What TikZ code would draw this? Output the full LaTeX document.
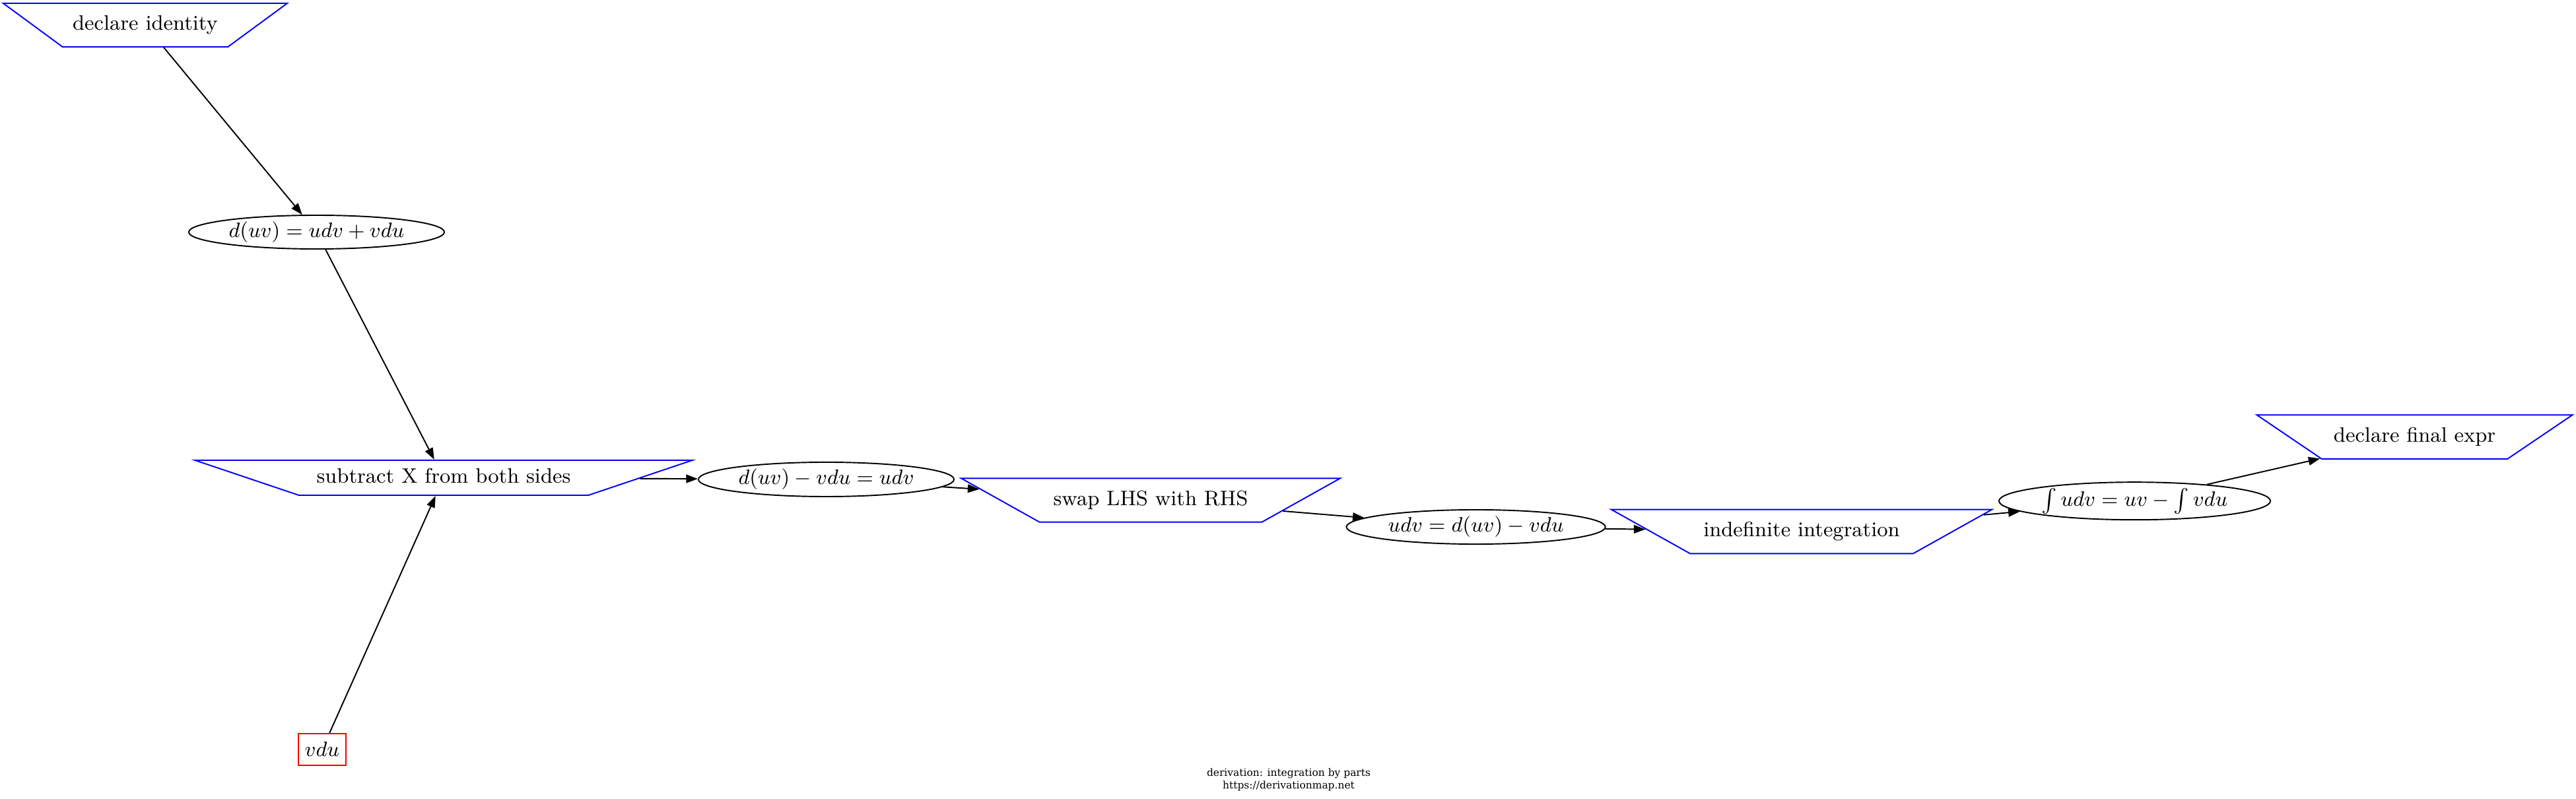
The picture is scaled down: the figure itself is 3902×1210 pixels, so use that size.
\documentclass[tikz,border=0pt]{standalone}
\usepackage{fontspec}
\usepackage{xcolor}
\usetikzlibrary{shapes.geometric,arrows.meta}
\newfontfamily\footfont{DejaVu Serif}
\definecolor{infrule}{RGB}{0,0,255}
\definecolor{feedval}{RGB}{255,0,0}

\begin{document}
\begin{tikzpicture}[x=0.01cm,y=-0.01cm,
        font=\fontsize{9}{11}\selectfont,
        >={Triangle[length=5pt,width=3.6pt]},
        inference/.style n args={3}{trapezium, shape border rotate=180, trapezium stretches body,
            draw=infrule, line width=0.55pt, inner xsep=0pt, text height=6.5pt, text depth=2pt,
            trapezium angle=#1, minimum width=#2, inner ysep=#3},
        expr/.style={ellipse, draw, line width=0.55pt, inner sep=0pt},
        feed/.style={rectangle, draw=feedval, line width=0.55pt, inner sep=0pt,
            minimum width=0.72cm, minimum height=0.48cm},
        link/.style={->, line width=0.55pt}
        ]
        \useasboundingbox (0,0) rectangle (3902,1210);

        \node[inference={36.3}{4.3cm}{0.1805cm}] (declid) at (220,38) {declare identity};
        \node[expr, minimum width=3.87cm, minimum height=0.51cm]
            (prodrule) at (479.5,351.5) {$d(uv)=udv+vdu$};
        \node[inference={18.6}{7.53cm}{0.1155cm}] (subtract) at (672,723.5) {subtract X from both sides};
        \node[feed] (vdu) at (488,1135) {$vdu$};
        \node[expr, minimum width=3.87cm, minimum height=0.52cm]
            (diff) at (1251.5,726) {$d(uv)-vdu=udv$};
        \node[inference={29.2}{5.74cm}{0.1825cm}] (swap) at (1743,757.5) {swap LHS with RHS};
        \node[expr, minimum width=3.92cm, minimum height=0.52cm]
            (swapped) at (2235.6,798) {$udv=d(uv)-vdu$};
        \node[inference={29.2}{5.76cm}{0.1835cm}] (integ) at (2729,805) {indefinite integration};
        \node[expr, minimum width=4.11cm, minimum height=0.57cm]
            (byparts) at (3233.5,758.7) {$\int udv=uv-\int vdu$};
        \node[inference={34.1}{4.78cm}{0.184cm}] (declfinal) at (3657.5,661.7) {declare final expr};

        \draw[link] (declid) -- (prodrule);
        \draw[link] (prodrule) -- (subtract);
        \draw[link] (vdu) -- (subtract);
        \draw[link] (subtract) -- (diff);
        \draw[link] (diff) -- (swap);
        \draw[link] (swap) -- (swapped);
        \draw[link] (swapped) -- (integ);
        \draw[link] (integ) -- (byparts);
        \draw[link] (byparts) -- (declfinal);

        \node[font=\footfont\fontsize{4.4}{5.4}\selectfont, align=center]
            (caption) at (1952,1181) {derivation: integration by parts\\https://derivationmap.net};
\end{tikzpicture}
\end{document}
